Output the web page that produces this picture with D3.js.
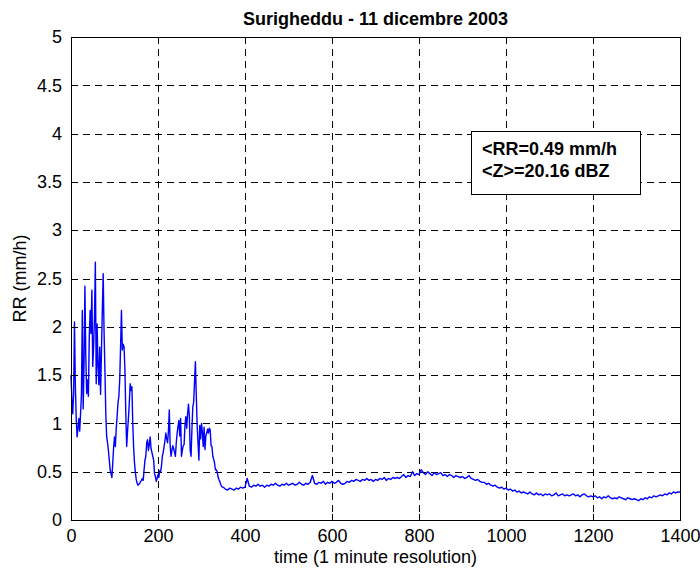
<!DOCTYPE html>
<html>
<head>
<meta charset="utf-8">
<script src="https://cdn.jsdelivr.net/npm/d3@7"></script>
<style>
  body { margin: 0; background: #fff; }
  svg text { font-family: "Liberation Sans", Arial, Helvetica, sans-serif; fill: #000; }
</style>
</head>
<body>
<svg id="chart" width="700" height="570"></svg>
<script>
// Rain rate (mm/h), burst phase sampled every 2 minutes from minute 0
const burstStep = 2;
const burstRR = [
  1.50, 1.25, 1.10, 1.30, 2.05, 1.40, 1.05, 0.86, 0.95, 1.05,
  0.92, 1.10, 1.30, 2.17, 1.15, 1.62, 2.42, 1.70, 1.31, 1.45,
  1.28, 1.90, 2.17, 1.93, 2.38, 1.59, 1.80, 2.10, 2.67, 1.41,
  2.03, 1.60, 1.40, 1.79, 1.30, 1.75, 2.17, 2.55, 1.95, 1.55,
  1.10, 0.86, 0.80, 0.72, 0.62, 0.52, 0.48, 0.44, 0.59, 0.75,
  0.86, 0.76, 0.95, 1.07, 1.21, 1.28, 1.45, 1.80, 2.17, 1.76,
  1.82, 1.79, 1.55, 1.10, 0.76, 0.92, 1.05, 1.21, 1.41, 1.34,
  1.38, 1.00, 0.75, 0.59, 0.49, 0.42, 0.38, 0.36, 0.37, 0.38,
  0.40, 0.41, 0.43, 0.41, 0.52, 0.62, 0.66, 0.80, 0.83, 0.72,
  0.78, 0.86, 0.74, 0.70, 0.66, 0.62, 0.48, 0.45, 0.40, 0.43,
  0.47, 0.44, 0.51, 0.50, 0.56, 0.66, 0.70, 0.76, 0.82, 0.90,
  0.84, 0.80, 0.92, 1.14, 0.76, 0.66, 0.72, 0.77, 0.74, 0.70,
  0.66, 0.80, 0.90, 0.97, 1.03, 0.87, 1.05, 0.66, 0.72, 0.77,
  0.78, 0.98, 1.07, 0.95, 1.10, 1.20, 1.08, 0.72, 0.66, 0.94,
  1.17, 1.22, 1.43, 1.64, 1.30, 0.98, 0.80, 0.62, 0.98, 0.84,
  1.00, 0.91, 0.76, 0.96, 0.73, 0.87, 0.90, 0.94, 0.90, 0.95,
  0.93, 0.77, 0.76, 0.66, 0.63, 0.59, 0.52, 0.52, 0.50, 0.45,
  0.42, 0.40, 0.37, 0.35, 0.34
];

// Rain rate (mm/h), stratiform tail sampled every 5 minutes from minute 350
const tailStart = 350;
const tailStep = 5;
const tailRR = [
  0.34, 0.32, 0.31, 0.33, 0.32, 0.31, 0.33, 0.32, 0.34, 0.33,
  0.34, 0.43, 0.35, 0.34, 0.36, 0.35, 0.37, 0.35, 0.36, 0.34,
  0.36, 0.35, 0.37, 0.36, 0.38, 0.36, 0.35, 0.37, 0.36, 0.38,
  0.36, 0.37, 0.38, 0.36, 0.37, 0.39, 0.37, 0.36, 0.38, 0.37,
  0.39, 0.46, 0.38, 0.37, 0.39, 0.38, 0.40, 0.37, 0.39, 0.38,
  0.40, 0.38, 0.39, 0.41, 0.38, 0.37, 0.38, 0.40, 0.39, 0.41,
  0.40, 0.42, 0.41, 0.40, 0.42, 0.41, 0.43, 0.41, 0.42, 0.40,
  0.42, 0.41, 0.43, 0.42, 0.44, 0.41, 0.43, 0.42, 0.44, 0.43,
  0.44, 0.43, 0.45, 0.47, 0.44, 0.46, 0.45, 0.50, 0.46, 0.48,
  0.47, 0.52, 0.49, 0.47, 0.50, 0.48, 0.46, 0.49, 0.47, 0.48,
  0.49, 0.46, 0.47, 0.45, 0.47, 0.46, 0.44, 0.46, 0.45, 0.44,
  0.45, 0.43, 0.44, 0.46, 0.43, 0.42, 0.41, 0.42, 0.40, 0.39,
  0.39, 0.37, 0.38, 0.36, 0.35, 0.36, 0.34, 0.33, 0.34, 0.32,
  0.33, 0.31, 0.32, 0.30, 0.31, 0.29, 0.30, 0.28, 0.29, 0.28,
  0.27, 0.29, 0.27, 0.26, 0.28, 0.26, 0.27, 0.25, 0.27, 0.26,
  0.27, 0.25, 0.26, 0.28, 0.25, 0.26, 0.27, 0.25, 0.26, 0.25,
  0.26, 0.27, 0.25, 0.26, 0.24, 0.26, 0.27, 0.25, 0.24, 0.25,
  0.24, 0.25, 0.23, 0.24, 0.22, 0.24, 0.23, 0.25, 0.23, 0.22,
  0.23, 0.22, 0.24, 0.23, 0.22, 0.21, 0.23, 0.22, 0.21, 0.22,
  0.21, 0.20, 0.22, 0.21, 0.23, 0.22, 0.24, 0.23, 0.25, 0.24,
  0.25, 0.26, 0.25, 0.27, 0.26, 0.28, 0.27, 0.29, 0.28, 0.29,
  0.29
];

const xTicks = [0, 200, 400, 600, 800, 1000, 1200, 1400];
const yTicks = [0, 0.5, 1, 1.5, 2, 2.5, 3, 3.5, 4, 4.5, 5];
const yTickLabels = ["0", "0.5", "1", "1.5", "2", "2.5", "3", "3.5", "4", "4.5", "5"];
const titleText = "Surigheddu - 11 dicembre 2003";
const xLabelText = "time (1 minute resolution)";
const yLabelText = "RR (mm/h)";
const statLines = ["<RR=0.49 mm/h", "<Z>=20.16 dBZ"];

const series = burstRR.map((v, i) => ({ t: i * burstStep, rr: v }))
  .concat(tailRR.map((v, i) => ({ t: tailStart + i * tailStep, rr: v })));

const svg = d3.select("#chart");
const plot = { left: 71, right: 680, top: 37, bottom: 520 };
const x = d3.scaleLinear().domain([0, 1400]).range([plot.left, plot.right]);
const y = d3.scaleLinear().domain([0, 5]).range([plot.bottom, plot.top]);
const fontSize = 18;
const tickLen = 6;

// dashed grid
const grid = svg.append("g").attr("stroke", "#000").attr("stroke-width", 1)
  .attr("stroke-dasharray", "7,5").attr("shape-rendering", "crispEdges");
grid.selectAll(".gx").data(xTicks.slice(1, -1)).join("line")
  .attr("x1", d => Math.round(x(d)) + 0.5).attr("x2", d => Math.round(x(d)) + 0.5)
  .attr("y1", plot.top).attr("y2", plot.bottom);
grid.selectAll(".gy").data(yTicks.slice(1, -1)).join("line")
  .attr("y1", d => Math.round(y(d)) + 0.5).attr("y2", d => Math.round(y(d)) + 0.5)
  .attr("x1", plot.left).attr("x2", plot.right);

// rain-rate trace
const line = d3.line().x(d => x(d.t)).y(d => y(d.rr));
svg.append("path").datum(series)
  .attr("fill", "none").attr("stroke", "#0000ff").attr("stroke-width", 1.4)
  .attr("stroke-linejoin", "round").attr("d", line);

// axes with inward ticks, boxed on all four sides
function boxAxis(axis, transform) {
  const g = svg.append("g").attr("transform", transform).call(axis);
  g.select(".domain").remove();
  g.selectAll("line").attr("stroke", "#000").attr("shape-rendering", "crispEdges");
  g.selectAll("text").attr("font-size", fontSize).attr("font-family", null);
  return g;
}
boxAxis(d3.axisBottom(x).tickValues(xTicks).tickFormat(d3.format("d"))
  .tickSizeInner(-tickLen).tickSizeOuter(0).tickPadding(9), `translate(0,${plot.bottom})`);
boxAxis(d3.axisTop(x).tickValues(xTicks).tickFormat("")
  .tickSizeInner(-tickLen).tickSizeOuter(0), `translate(0,${plot.top})`);
boxAxis(d3.axisLeft(y).tickValues(yTicks).tickFormat((d, i) => yTickLabels[i])
  .tickSizeInner(-tickLen).tickSizeOuter(0).tickPadding(9), `translate(${plot.left},0)`);
boxAxis(d3.axisRight(y).tickValues(yTicks).tickFormat("")
  .tickSizeInner(-tickLen).tickSizeOuter(0), `translate(${plot.right},0)`);

// frame
svg.append("rect").attr("x", plot.left + 0.5).attr("y", plot.top + 0.5)
  .attr("width", plot.right - plot.left).attr("height", plot.bottom - plot.top)
  .attr("fill", "none").attr("stroke", "#000").attr("stroke-width", 1)
  .attr("shape-rendering", "crispEdges");

// title and axis labels
svg.append("text").attr("x", (plot.left + plot.right) / 2).attr("y", 25)
  .attr("text-anchor", "middle").attr("font-size", fontSize).attr("font-weight", "bold")
  .text(titleText);
svg.append("text").attr("x", (plot.left + plot.right) / 2).attr("y", 563)
  .attr("text-anchor", "middle").attr("font-size", fontSize).text(xLabelText);
svg.append("text").attr("transform", `translate(26,${(plot.top + plot.bottom) / 2}) rotate(-90)`)
  .attr("text-anchor", "middle").attr("font-size", fontSize).text(yLabelText);

// statistics box
const stats = svg.append("g");
stats.append("rect").attr("x", 471.5).attr("y", 131.5).attr("width", 169).attr("height", 63)
  .attr("fill", "#fff").attr("stroke", "#000").attr("stroke-width", 1)
  .attr("shape-rendering", "crispEdges");
stats.selectAll("text").data(statLines).join("text")
  .attr("x", 482).attr("y", (d, i) => 155 + i * 22)
  .attr("font-size", fontSize).attr("font-weight", "bold").text(d => d);
</script>
</body>
</html>
